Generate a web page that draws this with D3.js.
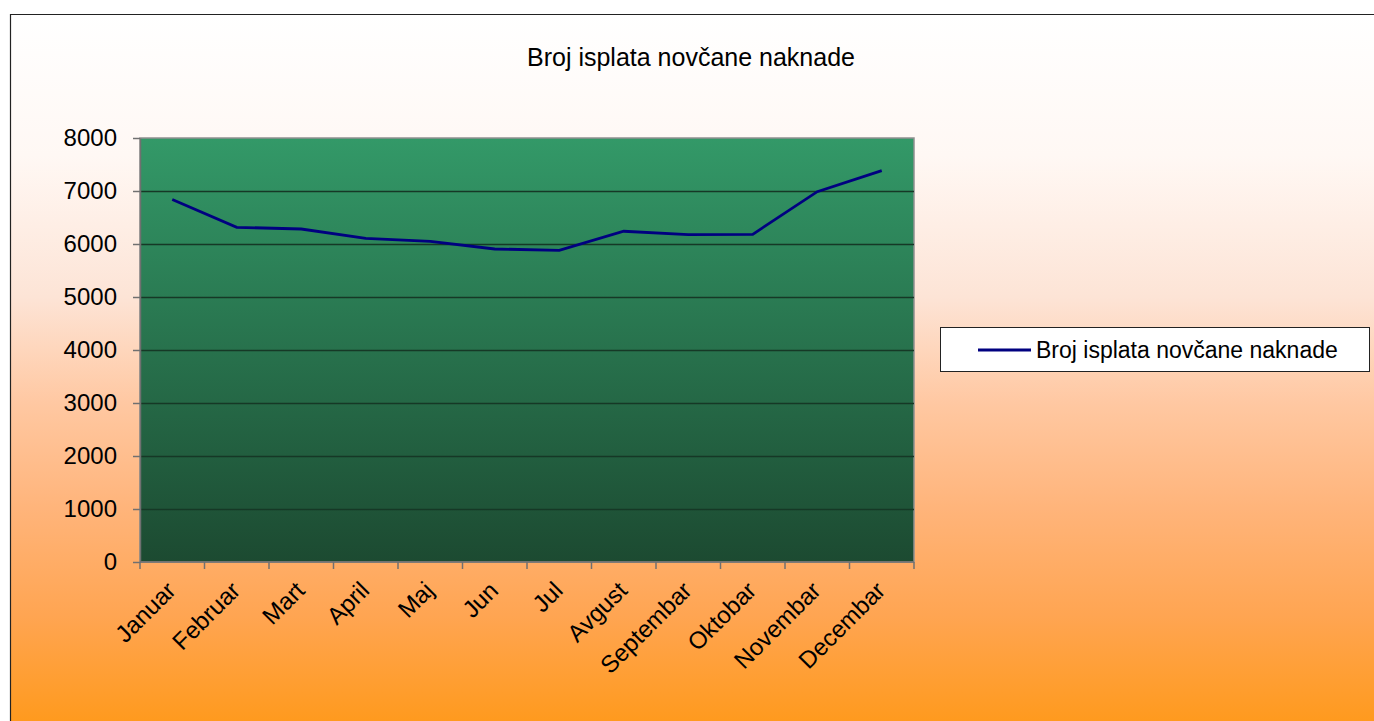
<!DOCTYPE html>
<html>
<head>
<meta charset="utf-8">
<script src="https://cdn.jsdelivr.net/npm/d3@7"></script>
<style>
  body { margin: 0; background: #fff; overflow: hidden; }
  svg { display: block; }
  svg text { font-family: "Liberation Sans", Arial, sans-serif; fill: #000; }
</style>
</head>
<body>
<div id="plotdiv"></div>
<script>
// Figure size
var outerWidth = 1374;
var outerHeight = 721;
// Plot area inside the chart
var margin = { left: 140, top: 138, right: 460, bottom: 159 };
var innerWidth  = outerWidth  - margin.left - margin.right;
var innerHeight = outerHeight - margin.top  - margin.bottom;

// Data
var months = ["Januar", "Februar", "Mart", "April", "Maj", "Jun", "Jul",
  "Avgust", "Septembar", "Oktobar", "Novembar", "Decembar"];
var payments = [6840, 6315, 6283, 6108, 6051, 5906, 5881, 6240, 6176, 6183, 6987, 7383];
var yTicks = [0, 1000, 2000, 3000, 4000, 5000, 6000, 7000, 8000];
var titleText = "Broj isplata novčane naknade";
var seriesName = "Broj isplata novčane naknade";

var vis = d3.select("#plotdiv").append("svg")
  .attr("width", outerWidth)
  .attr("height", outerHeight);

var defs = vis.append("defs");
// Chart background: white to orange
var bgGrad = defs.append("linearGradient")
  .attr("id", "bgGrad").attr("gradientUnits", "userSpaceOnUse")
  .attr("x1", 0).attr("y1", 14).attr("x2", 0).attr("y2", 721);
[[0, "#ffffff"], [0.2, "#fff8f4"], [0.4, "#fde4d6"], [0.55, "#ffc8a2"],
 [0.7, "#ffb47a"], [0.85, "#ffa552"], [1, "#ff9a1e"]].forEach(function(s) {
  bgGrad.append("stop").attr("offset", s[0]).attr("stop-color", s[1]);
});
// Plot area: green, darker at the bottom
var plotGrad = defs.append("linearGradient")
  .attr("id", "plotGrad").attr("x1", 0).attr("y1", 0).attr("x2", 0).attr("y2", 1);
plotGrad.append("stop").attr("offset", "0%").attr("stop-color", "#339968");
plotGrad.append("stop").attr("offset", "100%").attr("stop-color", "#1c4a31");

// Chart area with its border
vis.append("rect")
  .attr("x", 10.5).attr("y", 14.5)
  .attr("width", outerWidth - 10).attr("height", outerHeight - 14)
  .attr("fill", "url(#bgGrad)");
vis.append("path")
  .attr("d", "M10.5," + outerHeight + "V14.5H" + outerWidth)
  .attr("fill", "none")
  .attr("stroke", "#222").attr("stroke-width", 1.2);

// Title
vis.append("text")
  .attr("x", 691).attr("y", 66)
  .attr("text-anchor", "middle")
  .style("font-size", "25px")
  .text(titleText);

var g = vis.append("g")
  .attr("transform", "translate(" + margin.left + "," + margin.top + ")");

var xScale = d3.scaleBand().domain(months).range([0, innerWidth]);
var yScale = d3.scaleLinear().domain([0, 8000]).range([innerHeight, 0]);

// Plot area background
g.append("rect")
  .attr("width", innerWidth).attr("height", innerHeight)
  .attr("fill", "url(#plotGrad)")
  .attr("stroke", "#909090").attr("stroke-width", 1.5);

// Gridlines
g.selectAll("line.grid").data(yTicks.slice(1, -1)).enter().append("line")
  .attr("class", "grid")
  .attr("x1", 0).attr("x2", innerWidth)
  .attr("y1", function(d) { return Math.round(yScale(d)) + 0.5; })
  .attr("y2", function(d) { return Math.round(yScale(d)) + 0.5; })
  .attr("stroke", "#163826").attr("stroke-width", 1.5);

// Axes
var axisY = d3.axisLeft(yScale).tickValues(yTicks).tickFormat(d3.format("d"))
  .tickSize(7).tickSizeOuter(0).tickPadding(16);
var gAxisY = g.append("g").call(axisY);
gAxisY.select(".domain").attr("stroke", "#707070").attr("stroke-width", 1.5);
gAxisY.selectAll(".tick line").attr("stroke", "#707070").attr("stroke-width", 1.5);
gAxisY.selectAll("text").style("font-size", "24px").attr("font-family", null);

// X ticks sit on the category boundaries
var boundaries = d3.range(months.length + 1);
var gAxisX = g.append("g").attr("transform", "translate(0," + innerHeight + ")");
gAxisX.append("line")
  .attr("x1", 0).attr("x2", innerWidth)
  .attr("stroke", "#707070").attr("stroke-width", 1.5);
gAxisX.selectAll("line.tick").data(boundaries).enter().append("line")
  .attr("class", "tick")
  .attr("x1", function(d) { return d * xScale.bandwidth(); })
  .attr("x2", function(d) { return d * xScale.bandwidth(); })
  .attr("y1", 0).attr("y2", 7)
  .attr("stroke", "#707070").attr("stroke-width", 1.5);
gAxisX.selectAll("text").data(months).enter().append("text")
  .attr("transform", function(d) {
    return "translate(" + (xScale(d) + xScale.bandwidth() / 2 + 5) + ",30) rotate(-45)";
  })
  .attr("text-anchor", "end")
  .style("font-size", "24px")
  .text(function(d) { return d; });

// Series line
var line = d3.line()
  .x(function(d, i) { return xScale(months[i]) + xScale.bandwidth() / 2; })
  .y(function(d) { return yScale(d); });
g.append("path")
  .datum(payments)
  .attr("d", line)
  .attr("fill", "none")
  .attr("stroke", "#000080")
  .attr("stroke-width", 2.8);

// Legend
var gLegend = vis.append("g").attr("transform", "translate(940,327)");
gLegend.append("rect")
  .attr("x", 0.5).attr("y", 0.5)
  .attr("width", 429).attr("height", 44)
  .attr("fill", "#fff").attr("stroke", "#222").attr("stroke-width", 1);
gLegend.append("line")
  .attr("x1", 38).attr("x2", 91).attr("y1", 23).attr("y2", 23)
  .attr("stroke", "#000080").attr("stroke-width", 2.8);
gLegend.append("text")
  .attr("x", 96).attr("y", 31)
  .style("font-size", "23px")
  .text(seriesName);
</script>
</body>
</html>
